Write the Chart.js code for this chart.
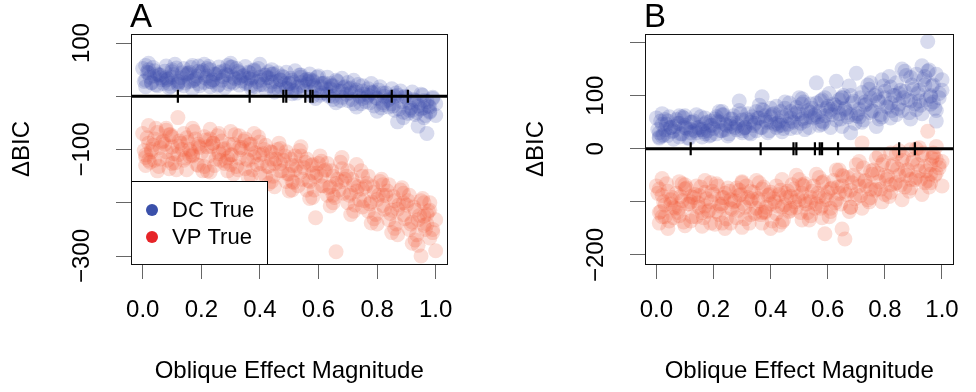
<!DOCTYPE html>
<html>
<head>
<meta charset="utf-8">
<script src="https://cdn.jsdelivr.net/npm/chart.js@4/dist/chart.umd.min.js"></script>
<style>
  html, body { margin: 0; padding: 0; background: #ffffff; }
  #wrap { position: relative; width: 976px; height: 392px; overflow: hidden; background: #fff; }
  #wrap canvas { position: absolute; top: 0; }
</style>
</head>
<body>
<div id="wrap">
  <canvas id="cA" width="470" height="392" style="left:0px"></canvas>
  <canvas id="cB" width="462" height="392" style="left:514px"></canvas>
</div>
<script>
// ---------------- data ----------------
const xTicks = [0, 0.2, 0.4, 0.6, 0.8, 1.0];
const xTickLabels = ['0.0', '0.2', '0.4', '0.6', '0.8', '1.0'];
const yTicksA = [100, 0, -100, -200, -300];
const yLabelsA = ['100', '', '\u2212100', '', '\u2212300'];
const yTicksB = [200, 100, 0, -100, -200];
const yLabelsB = ['', '100', '0', '', '\u2212200'];
const panelLetters = ['A', 'B'];
const legendLabels = ['DC True', 'VP True'];
const xTitle = 'Oblique Effect Magnitude';
const yTitle = '\u0394BIC';

// oblique effect magnitude of simulated observers (first batch)
const magnitude = [
  0.00,0.01,0.01,0.02,0.02,0.03,0.04,0.04,0.05,0.06,
  0.06,0.07,0.08,0.08,0.09,0.10,0.10,0.11,0.12,0.12,
  0.13,0.14,0.14,0.15,0.16,0.17,0.17,0.18,0.19,0.19,
  0.20,0.21,0.21,0.22,0.23,0.23,0.24,0.25,0.26,0.26,
  0.27,0.28,0.28,0.29,0.30,0.30,0.31,0.32,0.33,0.33,
  0.34,0.35,0.35,0.36,0.37,0.37,0.38,0.39,0.40,0.40,
  0.41,0.42,0.42,0.43,0.44,0.44,0.45,0.46,0.47,0.47,
  0.48,0.49,0.49,0.50,0.51,0.51,0.52,0.53,0.54,0.54,
  0.55,0.56,0.56,0.57,0.58,0.58,0.59,0.60,0.61,0.61,
  0.62,0.63,0.63,0.64,0.65,0.65,0.66,0.67,0.68,0.68,
  0.69,0.70,0.70,0.71,0.72,0.72,0.73,0.74,0.75,0.75,
  0.76,0.77,0.77,0.78,0.79,0.79,0.80,0.81,0.82,0.82,
  0.83,0.84,0.84,0.85,0.86,0.86,0.87,0.88,0.89,0.89,
  0.90,0.91,0.91,0.92,0.93,0.93,0.94,0.95,0.96,0.96,
  0.97,0.98,0.98,0.99,1.00,1.00,0.97,0.95,0.99,0.98
];
// second batch of simulated observers
const magnitude2 = [
  0.005,0.015,0.025,0.035,0.045,0.055,0.065,0.01,0.03,0.05,
  0.075,0.085,0.095,0.105,0.115,0.125,0.135,0.08,0.10,0.12,
  0.145,0.155,0.165,0.175,0.185,0.195,0.205,0.15,0.17,0.19,
  0.215,0.225,0.235,0.245,0.255,0.265,0.275,0.22,0.24,0.26,
  0.285,0.295,0.305,0.315,0.325,0.335,0.345,0.29,0.31,0.33,
  0.355,0.365,0.375,0.385,0.395,0.405,0.415,0.36,0.38,0.40,
  0.425,0.435,0.445,0.455,0.465,0.475,0.485,0.43,0.45,0.47,
  0.495,0.505,0.515,0.525,0.535,0.545,0.555,0.50,0.52,0.54,
  0.565,0.575,0.585,0.595,0.605,0.615,0.625,0.57,0.59,0.61,
  0.635,0.645,0.655,0.665,0.675,0.685,0.695,0.64,0.66,0.68,
  0.705,0.715,0.725,0.735,0.745,0.755,0.765,0.71,0.73,0.75,
  0.775,0.785,0.795,0.805,0.815,0.825,0.835,0.78,0.80,0.82,
  0.845,0.855,0.865,0.875,0.885,0.895,0.905,0.85,0.87,0.89,
  0.915,0.925,0.935,0.945,0.955,0.965,0.975,0.92,0.94,0.96,
  0.02,0.09,0.16,0.23,0.30,0.37,0.44,0.51,0.58,0.65
];

// Panel A, DC true (batch 1, batch 2)
const dcA = [
  52,30,18,44,62,25,38,48,20,35,
  40,24,57,30,16,46,36,60,28,22,
  35,52,20,43,28,14,58,33,24,47,
  45,26,60,38,18,50,31,41,22,55,
  30,48,16,40,62,27,36,52,21,44,
  38,56,24,45,15,32,50,28,60,36,
  22,40,12,35,50,27,8,44,30,18,
  36,15,45,24,5,30,48,18,26,40,
  10,32,22,42,0,28,16,38,24,6,
  25,4,36,14,-6,20,30,10,-2,34,
  18,-8,26,6,-14,30,12,0,20,-4,
  -10,14,2,24,-18,8,-4,18,-12,6,
  6,-20,-6,14,-26,0,-48,10,-30,-2,
  -2,-26,-12,8,-34,-8,-18,4,-22,-40,
  -10,-30,-20,-4,-36,-14,-70,-24,-2,-28
];
const dcA2 = [
  28,45,36,54,22,40,31,58,26,42,
  47,32,19,41,53,27,44,35,50,24,
  25,43,54,30,38,20,48,40,29,57,
  34,56,27,42,19,46,37,52,30,44,
  41,23,55,33,47,29,39,58,25,35,
  26,44,36,18,52,30,40,34,48,22,
  35,20,42,28,12,38,24,46,16,31,
  14,34,26,6,40,20,30,24,10,36,
  28,8,20,36,2,24,14,32,-4,18,
  0,20,12,28,-8,16,4,24,-12,10,
  14,-6,8,22,-14,4,-2,16,-20,10,
  -12,6,-2,12,-22,0,-8,8,-28,-16,
  -2,-18,6,-24,-10,0,-32,-14,2,-40,
  -22,-6,-30,-12,2,-36,-18,-26,-56,-8,
  50,24,45,28,55,20,42,12,30,0
];
// Panel A, VP true
const vpA = [
  -70,-110,-130,-88,-55,-100,-120,-80,-140,-96,
  -118,-84,-60,-104,-136,-76,-95,-125,-40,-110,
  -88,-120,-70,-138,-100,-60,-112,-80,-130,-94,
  -106,-76,-132,-95,-62,-142,-88,-118,-70,-104,
  -84,-126,-98,-140,-66,-110,-90,-132,-74,-116,
  -96,-136,-80,-120,-150,-100,-70,-128,-110,-145,
  -108,-150,-92,-132,-160,-118,-170,-100,-140,-126,
  -120,-160,-104,-146,-176,-130,-112,-168,-142,-95,
  -134,-176,-118,-160,-190,-144,-228,-126,-168,-150,
  -140,-186,-126,-170,-200,-150,-292,-176,-115,-160,
  -156,-200,-140,-182,-216,-166,-128,-194,-174,-208,
  -170,-216,-150,-198,-230,-180,-240,-160,-205,-186,
  -186,-232,-166,-214,-248,-196,-260,-176,-222,-200,
  -204,-250,-186,-236,-270,-214,-280,-196,-242,-225,
  -222,-266,-200,-250,-290,-232,-240,-300,-256,-214
];
const vpA2 = [
  -102,-78,-124,-92,-60,-132,-86,-115,-104,-68,
  -90,-120,-72,-108,-138,-84,-100,-64,-126,-94,
  -116,-86,-104,-66,-128,-96,-140,-78,-110,-90,
  -82,-112,-94,-130,-74,-120,-100,-140,-88,-108,
  -122,-90,-110,-72,-138,-100,-84,-116,-146,-96,
  -118,-90,-138,-106,-76,-126,-100,-152,-114,-86,
  -132,-104,-150,-118,-88,-140,-112,-164,-126,-98,
  -146,-118,-162,-130,-102,-156,-124,-178,-138,-112,
  -158,-130,-176,-144,-112,-168,-138,-192,-150,-122,
  -172,-140,-190,-156,-124,-182,-150,-206,-164,-136,
  -186,-156,-204,-170,-140,-196,-164,-222,-178,-150,
  -202,-170,-222,-186,-156,-212,-178,-238,-194,-166,
  -220,-188,-240,-204,-172,-230,-196,-256,-212,-182,
  -240,-208,-260,-224,-192,-250,-216,-276,-232,-200,
  -120,-72,-112,-80,-128,-90,-105,-160,-128,-186
];
// Panel B, DC true
const dcB = [
  58,30,20,46,66,36,25,52,40,18,
  34,55,22,48,28,62,40,20,50,36,
  52,30,64,40,22,47,58,34,26,44,
  38,60,28,50,70,34,46,24,56,42,
  62,36,48,90,30,54,40,66,28,50,
  44,70,34,58,98,40,62,30,50,76,
  66,40,80,52,32,60,88,46,70,38,
  50,78,40,66,94,56,36,72,60,84,
  58,86,124,70,46,92,62,80,40,74,
  84,54,127,66,96,42,76,60,100,30,
  90,62,142,74,106,50,82,120,68,96,
  70,104,42,88,130,60,96,78,116,58,
  100,64,124,84,150,72,108,92,56,134,
  112,74,140,90,156,66,120,202,100,84,
  120,52,140,96,110,130,88,146,104,72
];
const dcB2 = [
  36,52,26,46,60,32,42,22,55,40,
  48,28,58,38,20,50,34,62,44,30,
  40,60,32,50,24,44,56,36,28,52,
  52,34,64,44,28,56,40,70,36,48,
  44,66,38,56,30,60,48,72,40,54,
  58,40,72,50,34,64,46,82,54,60,
  48,70,38,62,86,52,66,44,76,58,
  70,48,88,58,40,76,64,96,52,68,
  60,90,50,76,104,64,82,44,96,70,
  78,56,100,68,118,86,48,92,74,64,
  66,96,54,84,112,72,100,60,88,124,
  92,64,118,80,136,72,100,56,108,86,
  76,110,96,138,68,120,84,104,146,90,
  104,82,130,92,148,118,76,110,136,98,
  24,60,36,64,34,74,44,84,52,96
];
// Panel B, VP true
const vpB = [
  -70,-120,-140,-88,-56,-106,-150,-80,-96,-130,
  -110,-84,-62,-126,-98,-145,-76,-104,-136,-90,
  -92,-128,-70,-110,-146,-82,-60,-118,-100,-140,
  -86,-118,-66,-104,-140,-92,-150,-74,-112,-96,
  -100,-74,-130,-88,-148,-64,-110,-92,-124,-80,
  -82,-112,-60,-98,-140,-76,-120,-88,-150,-104,
  -94,-70,-122,-86,-138,-58,-106,-80,-116,-90,
  -76,-110,-50,-96,-134,-84,-66,-120,-92,-100,
  -70,-104,-48,-90,-130,-64,-160,-82,-112,-76,
  -60,-96,-40,-84,-151,-70,-170,-54,-110,-78,
  -50,-86,-30,-70,-112,11,-60,-96,-42,-76,
  -40,-76,-18,-62,-100,-30,-86,-52,-8,-68,
  -30,-64,-10,-50,-96,-22,-72,-40,-2,-58,
  -20,-54,0,-42,-86,-12,-64,33,-30,-48,
  -14,-46,4,-30,-70,-24,-8,-60,-36,-20
];
const vpB2 = [
  -84,-118,-100,-66,-136,-92,-112,-76,-128,-104,
  -120,-90,-138,-74,-104,-128,-86,-112,-68,-100,
  -102,-72,-130,-94,-116,-80,-142,-88,-108,-64,
  -70,-108,-92,-132,-80,-114,-98,-124,-84,-140,
  -116,-86,-104,-70,-140,-94,-122,-78,-132,-98,
  -94,-124,-72,-110,-86,-136,-100,-64,-118,-82,
  -108,-78,-134,-92,-118,-68,-100,-144,-84,-112,
  -90,-120,-70,-104,-134,-80,-112,-58,-98,-126,
  -84,-112,-62,-96,-128,-74,-102,-54,-90,-118,
  -72,-104,-52,-86,-118,-64,-94,-40,-80,-110,
  -58,-88,-36,-70,-100,-48,-78,-24,-62,-92,
  -46,-76,-24,-58,-90,-34,-66,-12,-50,-82,
  -38,-68,-16,-50,-80,-26,-58,-4,-42,-74,
  -30,-58,-8,-42,-72,-18,-50,2,-34,-64,
  -128,-66,-120,-104,-62,-120,-110,-68,-108,-50
];
// magnitudes of the real observers (rug marks on the zero line)
const rugMagnitude = [0.12, 0.365, 0.48, 0.49, 0.555, 0.572, 0.58, 0.636, 0.85, 0.905];

// ---------------- styling ----------------
const FONT = "'Liberation Sans', Arial, Helvetica, sans-serif";
const blueFill = 'rgba(58,76,168,0.2)';
const redFill = 'rgba(238,84,52,0.2)';
const blueDot = 'rgb(58,80,170)';
const redDot = 'rgb(230,36,40)';

Chart.defaults.font.family = FONT;
Chart.defaults.color = '#000';

function toPts(xs, ys) { return ys.map((y, i) => ({ x: xs[i], y: y })); }

function makeChart(id, letter, dc, dc2, vp, vp2, yTicks, yLabels, yMin, yMax, withLegend, padRight) {
  const decor = {
    id: 'decor' + letter,
    afterDatasetsDraw(chart) {
      const ctx = chart.ctx;
      const ca = chart.chartArea;
      const ys = chart.scales.y;
      ctx.save();
      // legend
      if (withLegend) {
        const lx = ca.left, ly = ca.bottom - 83, lw = 136, lh = 83;
        ctx.fillStyle = '#fff';
        ctx.fillRect(lx, ly, lw, lh);
        ctx.strokeStyle = '#000';
        ctx.lineWidth = 1;
        ctx.strokeRect(lx + 0.5, ly + 0.5, lw, lh);
        const cols = [blueDot, redDot];
        legendLabels.forEach((t, i) => {
          const cy = ly + 29 + i * 27;
          ctx.fillStyle = cols[i];
          ctx.beginPath();
          ctx.arc(lx + 21, cy, 6, 0, Math.PI * 2);
          ctx.fill();
          ctx.fillStyle = '#000';
          ctx.font = '22px ' + FONT;
          ctx.textAlign = 'left';
          ctx.textBaseline = 'middle';
          ctx.fillText(t, lx + 41, cy + 1);
        });
      }
      // box
      ctx.strokeStyle = '#111';
      ctx.lineWidth = 1;
      ctx.strokeRect(Math.round(ca.left) + 0.5, Math.round(ca.top) + 0.5,
                     Math.round(ca.right - ca.left), Math.round(ca.bottom - ca.top));
      // rotated y tick labels
      ctx.fillStyle = '#000';
      ctx.font = '24px ' + FONT;
      ctx.textAlign = 'center';
      ctx.textBaseline = 'middle';
      yTicks.forEach((v, i) => {
        if (!yLabels[i]) return;
        const py = ys.getPixelForValue(v);
        ctx.save();
        ctx.translate(ca.left - 49, py);
        ctx.rotate(-Math.PI / 2);
        ctx.fillText(yLabels[i], 0, 0);
        ctx.restore();
      });
      // panel letter
      ctx.font = '33px ' + FONT;
      ctx.textAlign = 'left';
      ctx.textBaseline = 'alphabetic';
      ctx.fillText(letter, ca.left - 1, 27);
      ctx.restore();
    }
  };

  return new Chart(document.getElementById(id), {
    type: 'scatter',
    data: {
      datasets: [
        { label: 'zero', type: 'line', showLine: true,
          data: [{ x: -0.04, y: 0 }, { x: 1.04, y: 0 }],
          borderColor: '#000', borderWidth: 3, pointRadius: 0, fill: false },
        { label: 'rug', data: rugMagnitude.map(m => ({ x: m, y: 0 })),
          pointStyle: 'line', rotation: 90, pointRadius: 6.5,
          borderColor: '#000', borderWidth: 2.2, backgroundColor: '#000' },
        { label: legendLabels[1], data: toPts(magnitude, vp).concat(toPts(magnitude2, vp2)),
          pointRadius: 7.5, borderWidth: 0, backgroundColor: redFill },
        { label: legendLabels[0], data: toPts(magnitude, dc).concat(toPts(magnitude2, dc2)),
          pointRadius: 7.5, borderWidth: 0, backgroundColor: blueFill }
      ]
    },
    options: {
      responsive: false,
      animation: false,
      devicePixelRatio: 1,
      events: [],
      layout: { padding: { top: 34, right: padRight, bottom: 0, left: 0 } },
      plugins: { legend: { display: false }, tooltip: { enabled: false } },
      scales: {
        x: {
          type: 'linear', min: -0.04, max: 1.04,
          afterBuildTicks: s => { s.ticks = xTicks.map(v => ({ value: v })); },
          afterFit: s => { s.height = 128; },
          ticks: { callback: (v) => { const i = xTicks.indexOf(v); return i >= 0 ? xTickLabels[i] : ''; },
                   font: { size: 24 }, color: '#000', padding: 17, maxRotation: 0, minRotation: 0, autoSkip: false },
          grid: { drawOnChartArea: false, drawTicks: true, tickLength: 15, color: '#666', lineWidth: 1 },
          border: { display: false },
          title: { display: true, text: xTitle, font: { size: 24 }, color: '#000', padding: { top: 0, bottom: 6 } }
        },
        y: {
          type: 'linear', min: yMin, max: yMax,
          afterBuildTicks: s => { s.ticks = yTicks.map(v => ({ value: v })); },
          afterFit: s => { s.width = 131; },
          ticks: { callback: () => '', autoSkip: false },
          grid: { drawOnChartArea: false, drawTicks: true, tickLength: 15, color: '#666', lineWidth: 1 },
          border: { display: false },
          title: { display: true, text: yTitle, font: { size: 24 }, color: '#000', padding: { top: 8, bottom: 0 } }
        }
      }
    },
    plugins: [decor]
  });
}

makeChart('cA', panelLetters[0], dcA, dcA2, vpA, vpA2, yTicksA, yLabelsA, -315, 117, true, 17);
makeChart('cB', panelLetters[1], dcB, dcB2, vpB, vpB2, yTicksB, yLabelsB, -217, 216, false, 8);
</script>
</body>
</html>
